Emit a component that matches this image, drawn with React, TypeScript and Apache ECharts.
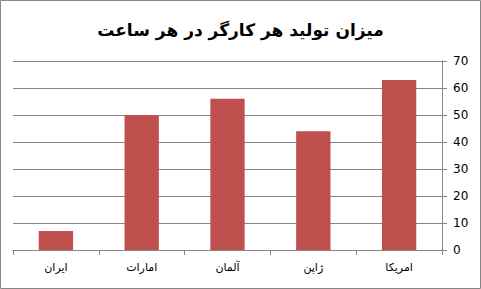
import React, { useEffect, useRef } from "react";
import * as echarts from "echarts";

const categories = ["ایران", "امارات", "آلمان", "ژاپن", "امریکا"];
const values = [7, 50, 56, 44, 63];
const titleText = "میزان تولید هر کارگر در هر ساعت";

export default function App() {
  const ref = useRef<HTMLDivElement>(null);
  useEffect(() => {
    const chart = echarts.init(ref.current!, null, { renderer: "svg" });
    const grey = "#868686";
    chart.setOption({
      animation: false,
      backgroundColor: "#ffffff",
      title: {
        text: titleText,
        left: "center",
        top: 16,
        textStyle: { fontFamily: "DejaVu Sans", fontWeight: "bold", fontSize: 17, color: "#000" },
      },
      graphic: [
        {
          type: "rect",
          shape: { x: 0.5, y: 0.5, width: 480, height: 288 },
          style: { fill: "none", stroke: grey, lineWidth: 1 },
          silent: true,
        },
      ],
      grid: { left: 13, right: 39, top: 61, bottom: 39, containLabel: false },
      xAxis: {
        type: "category",
        data: categories,
        axisLine: { show: true, lineStyle: { color: grey } },
        axisTick: { show: true, interval: 0, length: 5, lineStyle: { color: grey } },
        axisLabel: { color: "#000", fontFamily: "DejaVu Sans", fontSize: 11, margin: 12 },
      },
      yAxis: {
        type: "value",
        position: "right",
        min: 0,
        max: 70,
        interval: 10,
        axisLine: { show: true, lineStyle: { color: grey } },
        axisTick: { show: true, length: 5, lineStyle: { color: grey } },
        splitLine: { show: true, lineStyle: { color: grey } },
        axisLabel: { color: "#000", fontFamily: "DejaVu Sans", fontSize: 12, margin: 11 },
      },
      series: [
        {
          type: "bar",
          data: values,
          barWidth: "40%",
          itemStyle: { color: "#C0504D" },
        },
      ],
    });
    return () => chart.dispose();
  }, []);
  return <div ref={ref} style={{ position: "fixed", left: 0, top: 0, width: 481, height: 289 }} />;
}
